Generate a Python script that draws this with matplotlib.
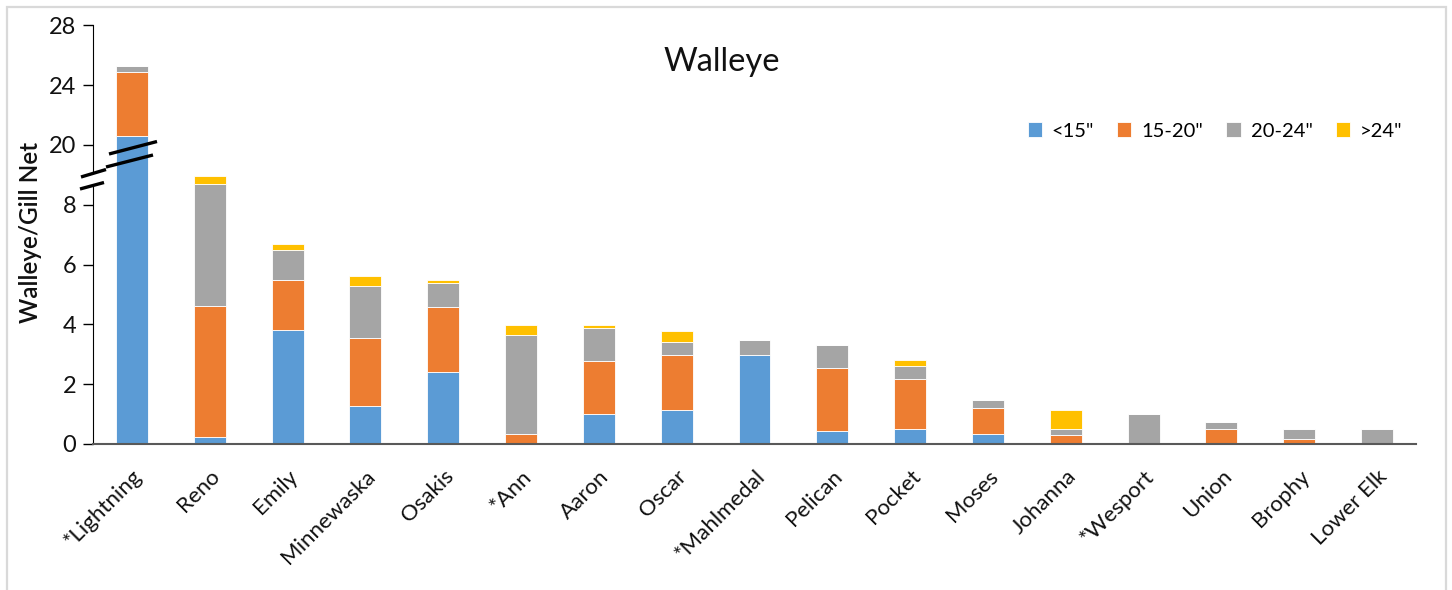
import numpy as np
import matplotlib
matplotlib.use("Agg")
import matplotlib.pyplot as plt
from matplotlib.patches import Polygon, Rectangle
from matplotlib.lines import Line2D

plt.rcParams['font.family'] = ['Lato', 'DejaVu Sans']

lakes = ["*Lightning", "Reno", "Emily", "Minnewaska", "Osakis", "*Ann", "Aaron", "Oscar",
         "*Mahlmedal", "Pelican", "Pocket", "Moses", "Johanna", "*Wesport", "Union",
         "Brophy", "Lower Elk"]
lt15 = [20.6, 0.23, 3.82, 1.27, 2.42, 0.0, 1.00, 1.13, 2.97, 0.44, 0.49, 0.32, 0.0, 0.0, 0.0, 0.0, 0.0]
s15_20 = [4.30, 4.40, 1.65, 2.26, 2.15, 0.33, 1.76, 1.84, 0.0, 2.10, 1.67, 0.89, 0.31, 0.0, 0.49, 0.16, 0.0]
s20_24 = [0.35, 4.07, 1.02, 1.76, 0.80, 3.33, 1.11, 0.43, 0.52, 0.78, 0.46, 0.26, 0.18, 1.00, 0.25, 0.33, 0.49]
gt24 = [0.0, 0.27, 0.21, 0.33, 0.10, 0.31, 0.10, 0.39, 0.0, 0.0, 0.18, 0.0, 0.64, 0.0, 0.0, 0.0, 0.0]
series = [("<15\"", lt15, "#5B9BD5"), ("15-20\"", s15_20, "#ED7D31"),
          ("20-24\"", s20_24, "#A5A5A5"), (">24\"", gt24, "#FFC000")]
yticks = [0, 2, 4, 6, 8, 20, 24, 28]


def fwd(v):
    v = np.asarray(v, dtype=float)
    return np.where(v <= 9, v, np.where(v <= 20, 9 + (v - 9) / 11.0, 10 + (v - 20) / 2.0))


def inv(d):
    d = np.asarray(d, dtype=float)
    return np.where(d <= 9, d, np.where(d <= 10, 9 + (d - 9) * 11.0, 20 + (d - 10) * 2.0))


W, H = 1452, 590
fig = plt.figure(figsize=(W / 100, H / 100), dpi=100)
ax = fig.add_axes([93 / W, 1 - 444 / H, (1416 - 93) / W, (444 - 25.3) / H])
ax.set_yscale('function', functions=(fwd, inv))

x = np.arange(len(lakes))
bottom = np.zeros(len(lakes))
handles = []
for name, vals, col in series:
    vals = np.array(vals)
    b = ax.bar(x, vals, 0.41, bottom=bottom, color=col, edgecolor='white', linewidth=0.6,
               label=name, zorder=2)
    bottom = bottom + vals
    handles.append(b)

ax.set_xlim(-0.5, len(lakes) - 0.5)
ax.set_ylim(0, 28)
ax.set_yticks(yticks)
ax.set_yticklabels([str(t) for t in yticks], fontsize=17, color='#111111')
ax.yaxis.set_minor_locator(matplotlib.ticker.NullLocator())
ax.tick_params(axis='y', direction='out', length=7, width=1.0, color='black', pad=5)
ax.set_xticks(x)
ax.set_xticklabels(lakes, rotation=45, ha='right', va='top', rotation_mode='anchor',
                   fontsize=16, color='#111111')
ax.tick_params(axis='x', length=0, pad=16)
for s in ['top', 'right']:
    ax.spines[s].set_visible(False)
ax.spines['left'].set_color('black')
ax.spines['bottom'].set_color('#595959')
ax.spines['bottom'].set_linewidth(1.5)

# axis break marks (figure pixel coordinates -> figure fraction)
def fp(px, py):
    return (px / W, 1 - py / H)

gap = Polygon([fp(79, 177), fp(107, 169), fp(107, 183), fp(79, 191)], closed=True,
              facecolor='white', edgecolor='none', transform=fig.transFigure, zorder=5)
fig.patches.append(gap)
for (x0, y0, x1, y1) in [(81, 177, 106, 169.5), (80, 189, 104, 182.5),
                         (109, 154, 157, 141.5), (106, 167, 153, 155)]:
    p0, p1 = fp(x0, y0), fp(x1, y1)
    fig.lines.append(Line2D([p0[0], p1[0]], [p0[1], p1[1]], transform=fig.transFigure,
                            color='black', linewidth=2.4, solid_capstyle='butt', zorder=6))

fig.text(722 / W, 1 - 62 / H, "Walleye", fontsize=23.5, ha='center', va='center', color='#111111')
fig.text(31 / W, 1 - 232 / H, "Walleye/Gill Net", fontsize=17.5, rotation=90, ha='center',
         va='center', color='#111111', fontweight='semibold')

fig.legend(handles=handles, loc='center', bbox_to_anchor=(1215 / W, 1 - 131 / H), ncol=4,
           frameon=False, fontsize=14.5, handlelength=0.7, handleheight=0.7,
           columnspacing=1.15, handletextpad=0.5)

# chart border
fig.patches.append(Rectangle((7 / W, -0.1), (1446 - 7) / W, 1.1 - 7 / H, transform=fig.transFigure,
                             fill=False, edgecolor='#D9D9D9', linewidth=1.6))

fig.savefig("out.png", dpi=100)
